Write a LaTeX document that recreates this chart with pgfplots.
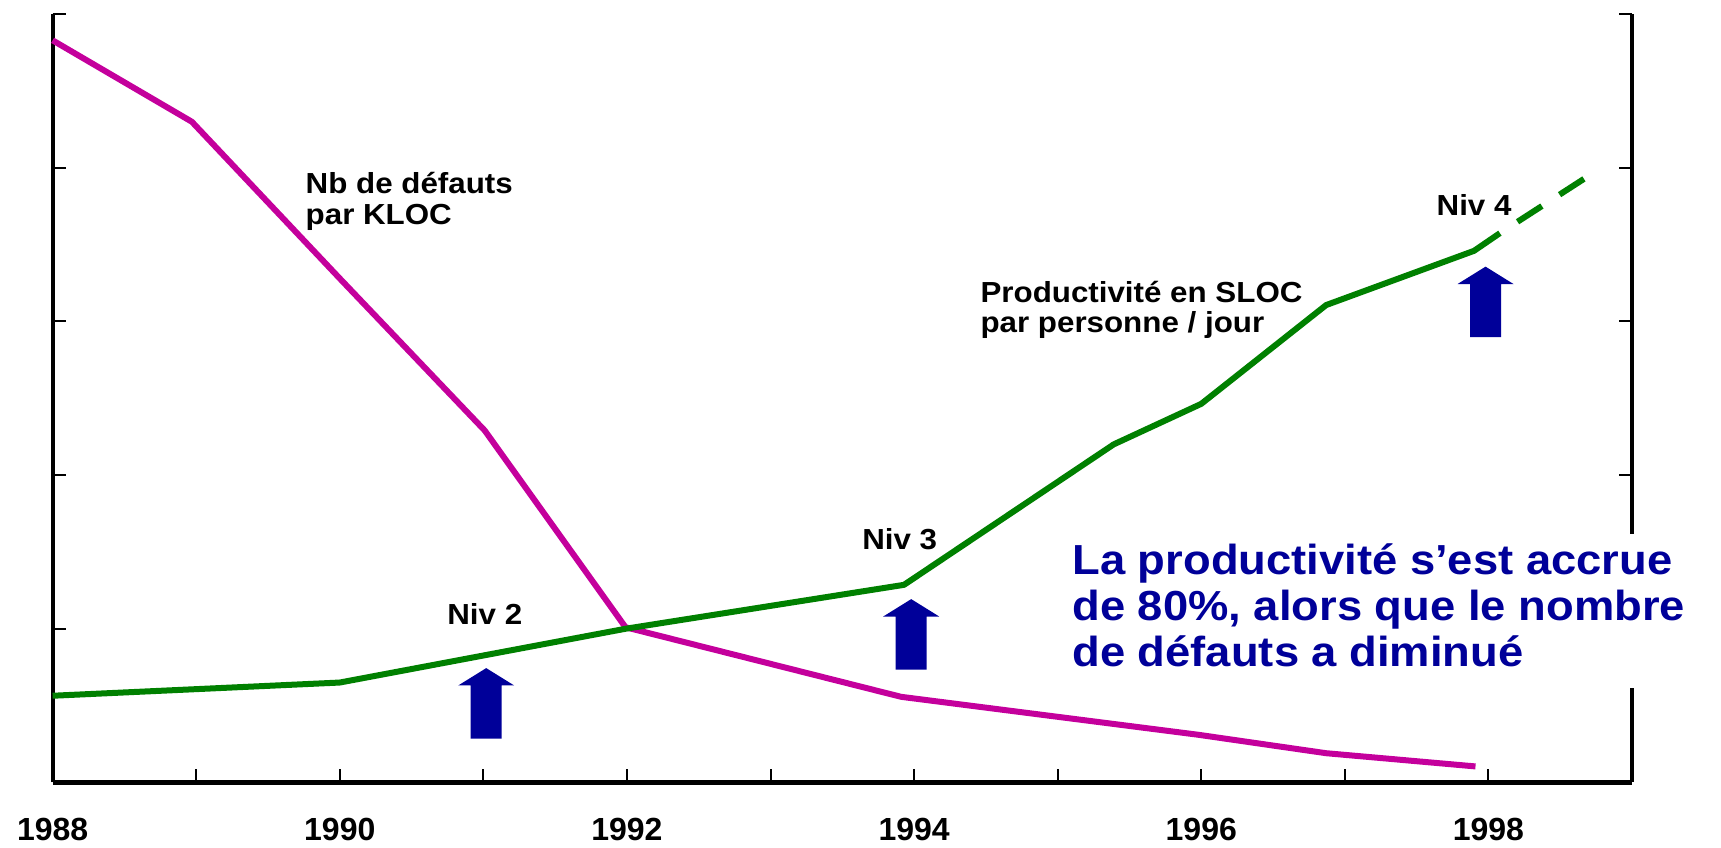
\documentclass[border=0pt]{standalone}
\usepackage{fontspec}
\setmainfont{Liberation Sans}
\newfontfamily\annot{Liberation Sans}[FakeStretch=1.08]
\usepackage{pgfplots}
\pgfplotsset{compat=1.18}
\definecolor{mag}{HTML}{C4009C}
\definecolor{grn}{HTML}{008000}
\definecolor{navy}{HTML}{000099}
% x = year - 1988
\newcommand{\uparr}[2]{\fill[navy] (axis cs:#1,#2) -- ++(-14pt,-8.7pt) -- ++(6.25pt,0) -- ++(0,-26.6pt) -- ++(15.5pt,0) -- ++(0,26.6pt) -- ++(6.25pt,0) -- cycle;}
\begin{document}
\begin{tikzpicture}
\useasboundingbox (-26.3pt,-32.75pt) rectangle (834.2pt,391.2pt);
\begin{axis}[
  at={(0,0)}, anchor=south west,
  width=789.7pt, height=384.1pt, scale only axis,
  xmin=0, xmax=11, ymin=0, ymax=5,
  axis x line=bottom, axis y line=left,
  axis line style={-, line width=2.1pt},
  tick align=inside,
  xtick={0,2,4,6,8,10},
  xticklabels={1988,1990,1992,1994,1996,1998},
  minor xtick={1,3,5,7,9,11},
  ytick={1,2,3,4,5}, yticklabels={},
  major tick length=6.5pt, minor tick length=6.5pt,
  tick style={black, line width=1pt},
  xticklabel style={font=\bfseries\fontsize{16}{18}\selectfont, yshift=-14.5pt},
  clip=false,
]
% defects per KLOC
\addplot[mag, line width=3pt, line join=round] coordinates {
  (0,4.83) (0.97,4.30) (2,3.28) (3.01,2.29) (3.99,1.01)
  (5.91,0.557) (7.98,0.31) (8.87,0.19) (9.91,0.104)};
% productivity
\addplot[grn, line width=3pt, line join=round] coordinates {
  (0,0.564) (2,0.65) (3.99,1.0) (5.93,1.286) (7.39,2.2)
  (8.0,2.464) (8.87,3.107) (9.9,3.46) (10.08,3.575)};
\addplot[grn, line width=3pt, dash pattern=on 14.5pt off 10.5pt, dash phase=14.5pt] coordinates {
  (10.08,3.575) (10.69,3.943)};
% right axis
\draw[line width=2.1pt] (axis cs:11,0) -- (axis cs:11,5);
\pgfplotsinvokeforeach{1,...,5}{\draw[line width=1pt] (axis cs:11,#1) -- ++(-6.5pt,0);}
% white box behind message
\fill[white] (axis cs:7.05,0.614) rectangle (axis cs:11.5,1.614);
% arrows
\uparr{3.02}{0.744}
\uparr{5.98}{1.193}
\uparr{9.98}{3.357}
% labels
\begin{scope}[every node/.style={inner sep=0pt, font=\annot\bfseries\fontsize{14.5}{16}\selectfont}]
\node[anchor=base west] at (axis cs:1.76,3.835) {Nb de défauts};
\node[anchor=base west] at (axis cs:1.76,3.63) {par KLOC};
\node[anchor=base west] at (axis cs:6.46,3.123) {Productivité en SLOC};
\node[anchor=base west] at (axis cs:6.46,2.93) {par personne / jour};
\node[anchor=base] at (axis cs:3.01,1.025) {Niv 2};
\node[anchor=base] at (axis cs:5.9,1.514) {Niv 3};
\node[anchor=base] at (axis cs:9.9,3.693) {Niv 4};
\end{scope}
\begin{scope}[every node/.style={inner sep=0pt, text=navy, font=\annot\bfseries\fontsize{21}{23}\selectfont}]
\node[anchor=base west] at (axis cs:7.1,1.35) {La productivité s’est accrue};
\node[anchor=base west] at (axis cs:7.1,1.055) {de 80\%, alors que le nombre};
\node[anchor=base west] at (axis cs:7.1,0.755) {de défauts a diminué};
\end{scope}
\end{axis}
\end{tikzpicture}
\end{document}
